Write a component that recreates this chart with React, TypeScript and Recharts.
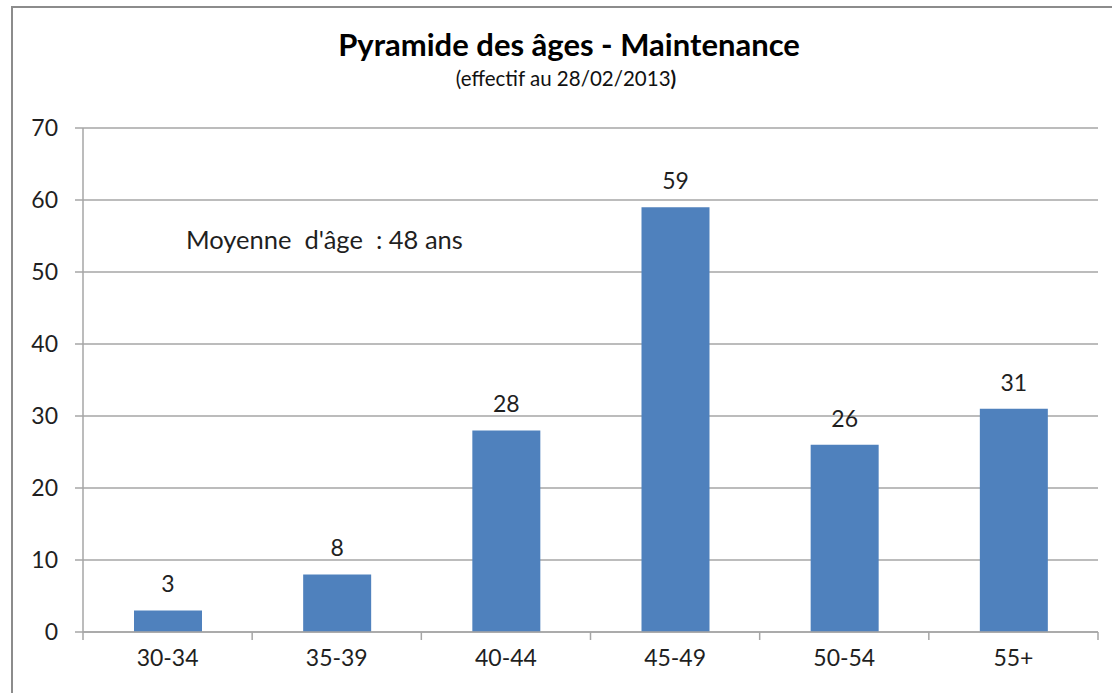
import { BarChart, Bar, XAxis, YAxis, CartesianGrid, LabelList } from 'recharts'

const ageGroups = ['30-34', '35-39', '40-44', '45-49', '50-54', '55+']
const headcounts = [3, 8, 28, 59, 26, 31]
const yTicks = [0, 10, 20, 30, 40, 50, 60, 70]

const chartTitle = 'Pyramide des âges - Maintenance'
const subtitleText = '(effectif au 28/02/2013'
const averageNote = "Moyenne  d'âge  : 48 ans"

const data = ageGroups.map((group, i) => ({ group, count: headcounts[i] }))

const W = 1112
const H = 693
const MARGIN = { top: 128, right: 14, bottom: 0, left: 13 }
const X_AXIS_H = 61
const Y_AXIS_W = 70
const BAND = (W - MARGIN.left - Y_AXIS_W - MARGIN.right) / ageGroups.length
const GRID = '#a6a6a6'
const TEXT = '#1f1f1f'
const FONT = 'Lato, "Open Sans", sans-serif'

// tick avec les traits aux limites de catégorie (comme Excel)
const CategoryTick = (props: any) => {
  const { x, y, payload, index } = props
  const axisY = y - 16
  return (
    <g>
      <line x1={x - BAND / 2} x2={x - BAND / 2} y1={axisY} y2={axisY + 8} stroke={GRID} strokeWidth={1.5} />
      {index === ageGroups.length - 1 && (
        <line x1={x + BAND / 2} x2={x + BAND / 2} y1={axisY} y2={axisY + 8} stroke={GRID} strokeWidth={1.5} />
      )}
      <text x={x} y={y + 2} dy="0.71em" textAnchor="middle" fill={TEXT} fontSize={23} fontFamily={FONT}>
        {payload.value}
      </text>
    </g>
  )
}

export default function App() {
  return (
    <div style={{ position: 'absolute', left: 0, top: 0, width: W, height: H, background: '#fff', fontFamily: FONT }}>
      <div
        style={{
          position: 'absolute', left: 11, top: 6, width: W - 11, height: H - 6,
          borderLeft: '2px solid #8c8c8c', borderTop: '2px solid #8c8c8c', boxSizing: 'border-box',
        }}
      />
      <div style={{ position: 'absolute', left: 569, top: 25, transform: 'translateX(-50%)', whiteSpace: 'pre', fontSize: 31, fontWeight: 700, color: '#000' }}>
        {chartTitle}
      </div>
      <div style={{ position: 'absolute', left: 566, top: 66, transform: 'translateX(-50%)', whiteSpace: 'pre', fontSize: 20.5, color: '#111' }}>
        {subtitleText}
        <b>)</b>
      </div>
      <div style={{ position: 'absolute', left: 186, top: 224, whiteSpace: 'pre', fontSize: 25.5, color: TEXT }}>
        {averageNote}
      </div>
      <div style={{ position: 'absolute', left: 0, top: 0 }}>
        <BarChart width={W} height={H} data={data} margin={MARGIN} barCategoryGap={0}>
          <CartesianGrid vertical={false} stroke={GRID} strokeWidth={1.5} />
          <YAxis
            width={Y_AXIS_W}
            domain={[0, 70]}
            ticks={yTicks}
            interval={0}
            axisLine={{ stroke: GRID, strokeWidth: 1.5 }}
            tickLine={{ stroke: GRID, strokeWidth: 1.5 }}
            tickSize={8}
            tickMargin={17}
            tick={{ fill: TEXT, fontSize: 23, fontFamily: FONT }}
          />
          <XAxis
            dataKey="group"
            interval={0}
            axisLine={{ stroke: GRID, strokeWidth: 1.5 }}
            tickLine={false}
            tickSize={8}
            tickMargin={8}
            height={X_AXIS_H}
            tick={<CategoryTick />}
          />
          <Bar dataKey="count" fill="#4F81BD" barSize={68} isAnimationActive={false}>
            <LabelList dataKey="count" position="top" offset={18} fill={TEXT} fontSize={23} fontFamily={FONT} />
          </Bar>
        </BarChart>
      </div>
    </div>
  )
}
